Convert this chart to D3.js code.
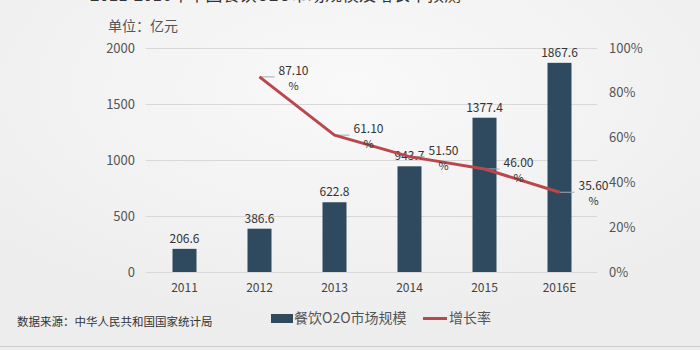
<!DOCTYPE html>
<html><head><meta charset="utf-8">
<script src="https://cdn.jsdelivr.net/npm/d3@7"></script>
<style>html,body{margin:0;padding:0;background:#f0f0f0;}svg{display:block;}</style>
</head><body>
<script>
const categories = ["2011","2012","2013","2014","2015","2016E"];
const marketSize = [206.6, 386.6, 622.8, 943.7, 1377.4, 1867.6];
const growthCats = ["2012","2013","2014","2015","2016E"];
const growthRate = [87.10, 61.10, 51.50, 46.00, 35.60];
const leftTicks = [0, 500, 1000, 1500, 2000];
const rightTicks = [0, 20, 40, 60, 80, 100];

const W = 700, H = 350;
const svg = d3.select("body").append("svg").attr("width", W).attr("height", H);
const defs = svg.append("defs");
const rg = defs.append("radialGradient").attr("id","bg").attr("cx","0.5").attr("cy","0.25").attr("r","0.7");
rg.append("stop").attr("offset","0%").attr("stop-color","#f9f9f9");
rg.append("stop").attr("offset","100%").attr("stop-color","#ededed");
svg.append("rect").attr("width",W).attr("height",H).attr("fill","url(#bg)");
svg.append("line").attr("x1",0).attr("x2",W).attr("y1",346.5).attr("y2",346.5).attr("stroke","#d0d0d0");

const font = "'Noto Sans CJK SC', 'Noto Sans', sans-serif";

// clipped title at very top
svg.append("text").attr("x",90).attr("y",1).attr("font-family",font).attr("font-size",17)
  .attr("fill","#333").text("2011-2016年中国餐饮O2O市场规模及增长率预测");

const x = d3.scaleBand().domain(categories).range([147, 597]).paddingInner(0.68).paddingOuter(0.34);
const y = d3.scaleLinear().domain([0, 2000]).range([272, 48]);
const y2 = d3.scaleLinear().domain([0, 100]).range([272, 48]);

// grid
svg.append("g").selectAll("line").data(leftTicks).join("line")
  .attr("x1",146).attr("x2",597).attr("y1",d=>y(d)+0.5).attr("y2",d=>y(d)+0.5)
  .attr("stroke","#d8d8d8").attr("stroke-width",1);

// left axis
const la = svg.append("g").attr("transform","translate(135,0)")
  .call(d3.axisLeft(y).tickValues(leftTicks).tickSize(0).tickPadding(0).tickFormat(d3.format("d")));
la.select(".domain").remove();
la.selectAll("text").attr("font-family",font).attr("font-size",13).attr("fill","#555");

// right axis
const ra = svg.append("g").attr("transform","translate(609,0)")
  .call(d3.axisRight(y2).tickValues(rightTicks).tickSize(0).tickPadding(0).tickFormat(d=>d+"%"));
ra.select(".domain").remove();
ra.selectAll("text").attr("font-family",font).attr("font-size",13).attr("fill","#555");

// bottom axis
const ba = svg.append("g").attr("transform","translate(0,281)")
  .call(d3.axisBottom(x).tickSize(0).tickPadding(0));
ba.select(".domain").remove();
ba.selectAll("text").attr("font-family",font).attr("font-size",12).attr("fill","#444").attr("dy","0.9em");

// unit
svg.append("text").attr("x",108).attr("y",31).attr("font-family",font).attr("font-size",14)
  .attr("fill","#555").text("单位：亿元");

// bars
const barColor = "#2f4a5f";
svg.append("g").selectAll("rect").data(marketSize).join("rect")
  .attr("x",(d,i)=>x(categories[i])).attr("width",x.bandwidth())
  .attr("y",d=>y(d)).attr("height",d=>y(0)-y(d)).attr("fill",barColor);
svg.append("g").selectAll("text").data(marketSize).join("text")
  .attr("x",(d,i)=>x(categories[i])+x.bandwidth()/2).attr("y",d=>y(d)-6)
  .attr("text-anchor","middle").attr("font-family",font).attr("font-size",12).attr("fill","#333")
  .text(d=>d3.format(".1f")(d));

// line
const cx = c => x(c) + x.bandwidth()/2;
const pts = growthRate.map((v,i)=>[cx(growthCats[i]), y2(v)]);
// leader lines
svg.append("g").selectAll("line").data(pts).join("line")
  .attr("x1",d=>d[0]).attr("x2",d=>d[0]+15).attr("y1",d=>d[1]).attr("y2",d=>d[1])
  .attr("stroke","#a9a9a9").attr("stroke-width",1);
svg.append("path").datum(pts).attr("d",d3.line()).attr("fill","none")
  .attr("stroke","#b9474b").attr("stroke-width",3).attr("stroke-linejoin","round");

const gl = svg.append("g").selectAll("g").data(pts).join("g")
  .attr("transform",d=>`translate(${d[0]+34},${d[1]})`);
gl.append("text").attr("y",-2).attr("text-anchor","middle").attr("font-family",font)
  .attr("font-size",12).attr("fill","#333").text((d,i)=>d3.format(".2f")(growthRate[i]));
gl.append("text").attr("y",13).attr("text-anchor","middle").attr("font-family",font)
  .attr("font-size",11).attr("fill","#333").text("%");

// legend
svg.append("rect").attr("x",271).attr("y",314).attr("width",22).attr("height",9).attr("fill",barColor);
svg.append("text").attr("x",294).attr("y",323).attr("font-family",font).attr("font-size",14)
  .attr("fill","#555").text("餐饮O2O市场规模");
svg.append("line").attr("x1",423).attr("x2",447).attr("y1",318.5).attr("y2",318.5)
  .attr("stroke","#b9474b").attr("stroke-width",3);
svg.append("text").attr("x",449).attr("y",323).attr("font-family",font).attr("font-size",14)
  .attr("fill","#555").text("增长率");

// source
svg.append("text").attr("x",17).attr("y",326).attr("font-family",font).attr("font-size",11.5)
  .attr("fill","#333").text("数据来源：中华人民共和国国家统计局");
</script>
</body></html>
